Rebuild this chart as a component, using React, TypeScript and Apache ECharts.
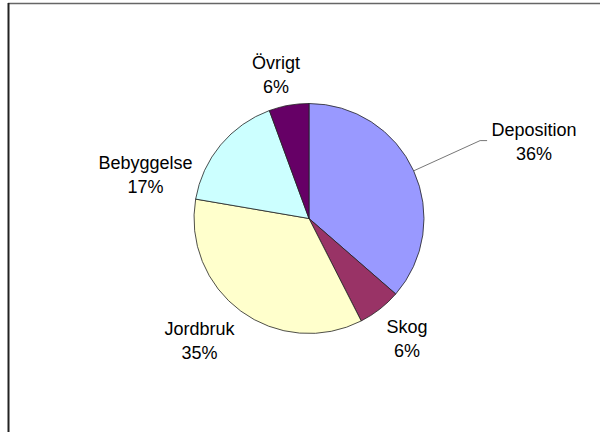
import React, { useEffect, useRef } from 'react';
import * as echarts from 'echarts';

const categories = ['Deposition', 'Skog', 'Jordbruk', 'Bebyggelse', 'Övrigt'];
const values = [36.4, 6.1, 35.2, 16.7, 5.6];
const colors = ['#9999FF', '#993366', '#FFFFCC', '#CCFFFF', '#660066'];

const CENTER = [309, 218.5];
const RADIUS = 115;
// label centre offsets from the pie centre (layout, px)
const LABEL_OFFSETS = [
  [225, -76.5],
  [98, 120.7],
  [-109.6, 122.5],
  [-163.5, -43.8],
  [-33, -143.5],
];
const LEADER_LEN = 73;
const LEADER_LEN2 = 7;

export default function App() {
  const ref = useRef<HTMLDivElement>(null);
  useEffect(() => {
    const chart = echarts.init(ref.current!, null, { renderer: 'svg' });
    const total = values.reduce((a, b) => a + b, 0);
    let cum = 0;
    const mids = values.map((v) => {
      const m = ((cum + v / 2) / total) * 2 * Math.PI;
      cum += v;
      return m;
    });
    chart.setOption({
      animation: false,
      backgroundColor: '#ffffff',
      graphic: [
        {
          type: 'line',
          shape: { x1: 8, y1: 3.5, x2: 600, y2: 3.5 },
          style: { stroke: '#666666', lineWidth: 1.5 },
          silent: true,
        },
        {
          type: 'line',
          shape: { x1: 8.5, y1: 3, x2: 8.5, y2: 432 },
          style: { stroke: '#222222', lineWidth: 2 },
          silent: true,
        },
      ],
      series: [
        {
          type: 'pie',
          center: CENTER,
          radius: RADIUS,
          startAngle: 90,
          clockwise: true,
          data: categories.map((name, i) => ({
            name,
            value: values[i],
            itemStyle: { color: colors[i] },
            labelLine: { show: i === 0 },
          })),
          itemStyle: { borderColor: '#222222', borderWidth: 0.8 },
          label: {
            show: true,
            position: 'outside',
            formatter: (p: any) => `${p.name}\n${Math.round(p.percent)}%`,
            fontFamily: '"Liberation Sans", Arial, sans-serif',
            fontSize: 18,
            color: '#000000',
            lineHeight: 24,
            align: 'center',
          },
          labelLine: {
            show: true,
            length: LEADER_LEN,
            length2: LEADER_LEN2,
            lineStyle: { color: '#777777', width: 1 },
          },
          labelLayout: (params: any) => {
            const i = params.dataIndex;
            const o = LABEL_OFFSETS[i];
            const res: any = {
              x: CENTER[0] + o[0],
              y: CENTER[1] + o[1],
              align: 'center',
              verticalAlign: 'middle',
            };
            if (i === 0) {
              const a = mids[0];
              const dx = Math.sin(a);
              const dy = -Math.cos(a);
              const p0 = [CENTER[0] + RADIUS * dx, CENTER[1] + RADIUS * dy];
              const p1 = [CENTER[0] + (RADIUS + LEADER_LEN) * dx, CENTER[1] + (RADIUS + LEADER_LEN) * dy];
              res.labelLinePoints = [p0, p1, [p1[0] + LEADER_LEN2, p1[1]]];
            }
            return res;
          },
        },
      ],
    });
    return () => chart.dispose();
  }, []);
  return (
    <div
      ref={ref}
      style={{ position: 'fixed', left: 0, top: 0, width: 600, height: 432 }}
    />
  );
}
